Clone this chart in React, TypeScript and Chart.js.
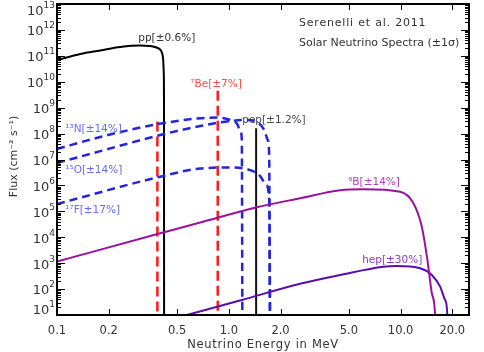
import React, { useEffect, useRef } from "react";
import { Chart, registerables } from "chart.js";
Chart.register(...registerables);

// ---- data (energy in MeV, flux in cm^-2 s^-1 [MeV^-1]) ----
const ppE = [0.1, 0.1366, 0.1786, 0.2335, 0.305, 0.349, 0.383, 0.40, 0.41, 0.415, 0.418, 0.4195, 0.42];
const ppF = [6.9e10, 1.18e11, 1.61e11, 2.19e11, 2.5e11, 2.4e11, 2.05e11, 1.7e11, 1.2e11, 7e10, 2.5e10, 2e9, 10];

const be7E = [0.384, 0.384, 0.6, 0.862, 0.862];
const be7F = [2.9e8, 10, null, 4.5e9, 10];

const pepE = [1.442, 1.442];
const pepF = [1.6e8, 10];

const n13E = [0.1, 0.1786, 0.363, 0.655, 0.856, 1.019, 1.119, 1.173, 1.19, 1.199];
const n13F = [2.55e7, 7.4e7, 2.15e8, 3.83e8, 4.18e8, 3.35e8, 2.35e8, 1.15e8, 5.7e7, 10];

const o15E = [0.1, 0.1786, 0.399, 0.682, 1.019, 1.297, 1.483, 1.607, 1.684, 1.718, 1.732];
const o15F = [7.3e6, 2.1e7, 8.8e7, 1.96e8, 3.06e8, 3.35e8, 2.56e8, 1.38e8, 5.7e7, 1.5e7, 10];

const f17E = [0.1, 0.399, 0.682, 1.019, 1.332, 1.523, 1.65, 1.718, 1.74];
const f17F = [1.92e5, 2.17e6, 4.5e6, 4.9e6, 3.9e6, 2.3e6, 1.04e6, 2.8e5, 10];

const b8E = [0.1, 0.399, 0.682, 1.457, 2.6, 4.45, 6.07, 9.94, 11.87, 13.28, 14.32, 15.19, 15.87, 16.0];
const b8F = [1.15e3, 1.42e4, 3.7e4, 1.44e5, 3.2e5, 6.5e5, 7.1e5, 5.7e5, 2.05e5, 2.56e4, 1.33e3, 69, 10, 1];

const hepE = [0.57, 1.19, 2.6, 4.45, 7.94, 9.51, 12.99, 15.19, 16.98, 18.15, 18.7, 18.77];
const hepF = [10, 38, 160, 351, 733, 780, 635, 351, 124, 38, 10, 1];

const xTickVals = [0.1, 0.2, 0.5, 1, 2, 5, 10, 20];
const xTickLabels = ["0.1", "0.2", "0.5", "1.0", "2.0", "5.0", "10.0", "20.0"];
const yExponents = [1, 2, 3, 4, 5, 6, 7, 8, 9, 10, 11, 12, 13];

// annotation labels
const labelTexts = ["pp[±0.6%]", "⁷Be[±7%]", "pep[±1.2%]", "¹³N[±14%]", "¹⁵O[±14%]", "¹⁷F[±17%]", "⁸B[±14%]", "hep[±30%]"];
const labelE = [0.297, 0.597, 1.197, 0.1117, 0.1117, 0.1117, 4.95, 5.97];
const labelF = [4.75e11, 8.2e9, 3.2e8, 1.5e8, 3.9e6, 1.13e5, 1.36e6, 1.33e3];
const labelColors = ["#333333", "#ff4a4a", "#444444", "#6a6af0", "#6a6af0", "#6a6af0", "#b040c0", "#8a3cc0"];

const titleLines = ["Serenelli et al. 2011", "Solar Neutrino Spectra (±1σ)"];
const xTitle = "Neutrino Energy in MeV";
const yTitle = "Flux (cm⁻² s⁻¹)";

const pts = (xs: number[], ys: (number | null)[]) => xs.map((x, i) => ({ x, y: ys[i] }));

const FONT = "'DejaVu Sans', sans-serif";

const framePlugin = {
  id: "frameTicks",
  afterDatasetsDraw(chart: any) {
    const { ctx, chartArea, scales } = chart;
    const { left, right, top, bottom } = chartArea;
    const x = scales.x, y = scales.y;
    ctx.save();
    // curve labels
    ctx.font = `10.5px ${FONT}`;
    ctx.textBaseline = "middle";
    ctx.textAlign = "left";
    labelTexts.forEach((t, i) => {
      ctx.fillStyle = labelColors[i];
      ctx.fillText(t, x.getPixelForValue(labelE[i]), y.getPixelForValue(labelF[i]));
    });
    // title block
    ctx.fillStyle = "#333";
    ctx.font = `11px ${FONT}`;
    (ctx as any).letterSpacing = "0.8px";
    ctx.fillText(titleLines[0], 299, 23);
    (ctx as any).letterSpacing = "0px";
    ctx.fillText(titleLines[1], 299, 43);
    // axis titles
    ctx.textAlign = "center";
    ctx.font = `11.5px ${FONT}`;
    (ctx as any).letterSpacing = "0.7px";
    ctx.fillText(xTitle, (left + right) / 2, 345);
    (ctx as any).letterSpacing = "0px";
    ctx.save();
    ctx.translate(14, (top + bottom) / 2 - 3);
    ctx.rotate(-Math.PI / 2);
    ctx.font = `11px ${FONT}`;
    ctx.fillText(yTitle, 0, 0);
    ctx.restore();
    // y tick labels: 10 with raised exponent
    ctx.textAlign = "right";
    yExponents.forEach((e) => {
      const py = y.getPixelForValue(Math.pow(10, e));
      const yc = Math.min(Math.max(py + 2, 12), 311);
      ctx.font = `9px ${FONT}`;
      const ex = String(e);
      const ew = ctx.measureText(ex).width;
      ctx.fillText(ex, 55, yc - 6);
      ctx.font = `13px ${FONT}`;
      ctx.fillText("10", 55 - ew, yc);
    });
    // inward ticks
    ctx.strokeStyle = "#000";
    ctx.lineWidth = 1;
    const line = (x1: number, y1: number, x2: number, y2: number) => {
      ctx.beginPath(); ctx.moveTo(x1, y1); ctx.lineTo(x2, y2); ctx.stroke();
    };
    xTickVals.forEach((v) => {
      const px = Math.round(x.getPixelForValue(v)) + 0.5;
      line(px, bottom, px, bottom - 6);
      line(px, top, px, top + 6);
    });
    yExponents.forEach((e) => {
      for (let k = 1; k < 10; k++) {
        const v = k * Math.pow(10, e);
        if (v > 1e13 * 1.0001) break;
        const py = Math.round(y.getPixelForValue(v)) + 0.5;
        const len = k === 1 ? 8 : 4;
        line(left, py, left + len, py);
        line(right, py, right - len, py);
      }
    });
    ctx.lineWidth = 2;
    ctx.strokeRect(left, top, right - left, bottom - top);
    ctx.restore();
  },
};

export default function App() {
  const ref = useRef<HTMLCanvasElement | null>(null);
  useEffect(() => {
    document.body.style.margin = "0";
    const canvas = ref.current!;
    const base = { pointRadius: 0, fill: false, spanGaps: false };
    const smooth = { ...base, cubicInterpolationMode: "monotone" };
    const straight = { ...base, tension: 0 };
    const zeroPad = (s: any) => { s.paddingLeft = 0; s.paddingRight = 0; s.paddingTop = 0; s.paddingBottom = 0; };
    const chart = new Chart(canvas, {
      type: "line",
      data: {
        datasets: [
          { ...smooth, data: pts(b8E, b8F), borderColor: "#9a10a0", borderWidth: 2 },
          { ...smooth, data: pts(hepE, hepF), borderColor: "#5a0cb0", borderWidth: 2 },
          { ...smooth, data: pts(n13E, n13F), borderColor: "#2424e0", borderWidth: 2.5, borderDash: [8, 5] },
          { ...smooth, data: pts(o15E, o15F), borderColor: "#2424e0", borderWidth: 2.5, borderDash: [8, 5] },
          { ...smooth, data: pts(f17E, f17F), borderColor: "#2424e0", borderWidth: 2.5, borderDash: [8, 5] },
          { ...straight, data: pts(be7E, be7F), borderColor: "#ff1a1a", borderWidth: 2.5, borderDash: [10, 5] },
          { ...straight, data: pts(pepE, pepF), borderColor: "#111", borderWidth: 2 },
          { ...smooth, data: pts(ppE, ppF), borderColor: "#000", borderWidth: 2 },
        ] as any,
      },
      options: {
        responsive: false,
        animation: false,
        devicePixelRatio: 1,
        layout: { padding: { top: 4, right: 15, left: 0, bottom: 0 } },
        plugins: { legend: { display: false }, tooltip: { enabled: false } },
        scales: {
          x: {
            type: "logarithmic",
            min: 0.1,
            max: 25,
            grid: { display: false, drawTicks: false },
            border: { display: false },
            afterBuildTicks: (s: any) => { s.ticks = xTickVals.map((v) => ({ value: v })); },
            afterFit: (s: any) => { s.height = 37; zeroPad(s); },
            ticks: {
              autoSkip: false,
              maxRotation: 0,
              padding: 9,
              color: "#333",
              font: { family: FONT, size: 11.5 },
              callback: (v: any) => { const i = xTickVals.findIndex((t) => Math.abs(t - v) < 1e-9); return i >= 0 ? xTickLabels[i] : ""; },
            },
          },
          y: {
            type: "logarithmic",
            min: 10,
            max: 1e13,
            grid: { display: false, drawTicks: false },
            border: { display: false },
            afterBuildTicks: (s: any) => { s.ticks = yExponents.map((e) => ({ value: Math.pow(10, e) })); },
            afterFit: (s: any) => { s.width = 57; zeroPad(s); },
            ticks: { display: false },
          },
        },
      } as any,
      plugins: [framePlugin],
    });
    return () => chart.destroy();
  }, []);
  return (
    <div style={{ width: 484, height: 352 }}>
      <canvas ref={ref} width={484} height={352} />
    </div>
  );
}
